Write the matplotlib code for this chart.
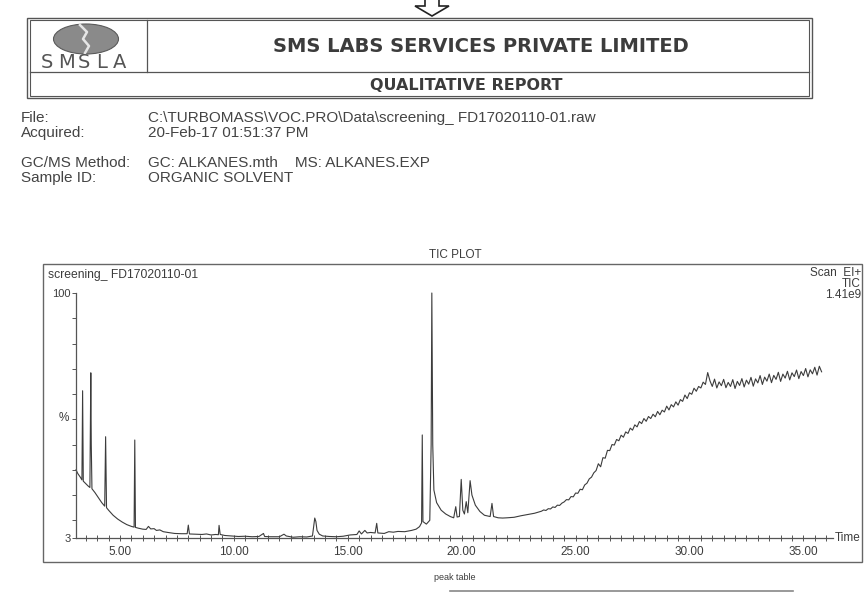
import matplotlib.pyplot as plt
from matplotlib.patches import Rectangle, Ellipse, Polygon
from matplotlib.lines import Line2D
import numpy as np

plt.rcParams['font.family'] = ['Liberation Sans', 'DejaVu Sans']

# report header text
company = 'SMS LABS SERVICES PRIVATE LIMITED'
report_title = 'QUALITATIVE REPORT'
info_labels = ['File:', 'Acquired:', 'GC/MS Method:', 'Sample ID:']
info_values = ['C:\\TURBOMASS\\VOC.PRO\\Data\\screening_ FD17020110-01.raw',
               '20-Feb-17 01:51:37 PM',
               'GC: ALKANES.mth    MS: ALKANES.EXP',
               'ORGANIC SOLVENT']

# chromatogram: retention time (min) and intensity (%)
rt_main = [3.07, 3.15, 3.25, 3.33, 3.36, 3.39, 3.5, 3.6, 3.68, 3.70, 3.72, 3.74, 3.77,
           3.9, 4.05, 4.2, 4.33, 4.37, 4.41, 4.5, 4.7, 4.9, 5.1, 5.3, 5.5, 5.62, 5.65,
           5.68, 5.8, 6.0, 6.15, 6.25, 6.35, 6.5, 6.6, 6.75, 6.9, 7.1, 7.4, 7.7, 7.95,
           8.0, 8.05, 8.3, 8.6, 8.8, 9.0, 9.2, 9.32, 9.35, 9.4, 9.6, 9.9, 10.2, 10.5,
           10.8, 11.1, 11.3, 11.35, 11.6, 12.0, 12.2, 12.3, 12.6, 12.9, 13.2, 13.45,
           13.55, 13.6, 13.65, 13.75, 13.9, 14.2, 14.5, 14.8, 15.1, 15.4, 15.5, 15.6,
           15.75, 15.85, 16.0, 16.2, 16.27, 16.32, 16.6, 16.8, 17.0, 17.2, 17.5, 17.8,
           18.0, 18.15, 18.24, 18.27, 18.30, 18.45, 18.6, 18.66, 18.69, 18.73, 18.78,
           18.9, 19.1, 19.3, 19.5, 19.65, 19.74, 19.8, 19.9, 19.98, 20.05, 20.12, 20.2,
           20.27, 20.37, 20.45, 20.6, 20.8, 21.0, 21.25, 21.33, 21.4, 21.6, 21.8, 22.0,
           22.3, 22.6, 22.9, 23.2]
int_main = [30.0, 28.5, 27.2, 26.0, 61.3, 25.5, 24.5, 23.6, 23.0, 44.0, 68.4, 40.0, 22.5,
            21.0, 19.0, 17.0, 15.6, 43.1, 15.0, 14.0, 12.0, 10.5, 9.3, 8.3, 7.6, 7.3, 41.8,
            7.2, 6.9, 6.5, 6.4, 7.6, 6.6, 6.7, 6.0, 6.2, 5.5, 5.2, 4.8, 4.7, 4.7,
            8.1, 4.6, 4.5, 4.4, 4.6, 4.2, 4.4, 4.3, 8.0, 4.4, 4.0, 3.8, 3.6, 3.7,
            3.5, 3.6, 4.8, 3.6, 3.5, 3.5, 4.5, 3.8, 3.3, 3.5, 3.4, 3.8,
            10.9, 9.5, 6.0, 4.5, 3.8, 3.6, 3.5, 3.7, 4.2, 4.4, 5.8, 4.6,
            6.0, 5.0, 5.2, 5.0, 8.8, 5.0, 4.8, 5.5, 5.3, 5.6, 5.5, 6.0,
            6.5, 7.5, 9.0, 43.8, 9.5, 8.5, 10.0, 40.0, 100.0, 40.0, 22.0,
            17.0, 14.0, 12.5, 11.5, 11.0, 15.4, 11.3, 11.5, 26.2, 14.0, 12.5, 17.4,
            13.0, 25.7, 20.0, 16.0, 13.5, 12.0, 11.5, 16.7, 11.5, 11.0, 10.9, 11.0,
            11.2, 11.8, 12.3, 12.8]

# column bleed region, scans every 0.1 min from 23.5 to 35.8
rt_tail = np.round(np.arange(23.5, 35.85, 0.1), 2)
int_tail = [13.6, 14.1, 13.9, 14.6, 14.5, 15.3, 15.1, 16.0, 15.9, 16.8,
            17.3, 18.2, 18.1, 19.4, 19.3, 20.8, 20.7, 22.3, 22.1, 24.0,
            24.7, 26.4, 27.1, 28.8, 29.7, 32.4, 31.2, 34.8, 34.6, 37.7,
            37.6, 40.0, 39.8, 42.0, 41.5, 43.7, 42.9, 45.0, 44.4, 46.5,
            45.7, 47.8, 47.0, 49.1, 48.3, 50.3, 49.2, 51.1, 50.3, 52.0,
            51.0, 53.1, 51.8, 53.6, 52.9, 55.2, 53.7, 55.8, 54.9, 56.9,
            55.6, 57.8, 57.1, 59.6, 58.2, 60.5, 59.9, 62.3, 61.1, 63.0,
            62.4, 64.7, 63.8, 68.5, 65.2, 63.0, 65.9, 62.4, 64.8, 63.3,
            65.8, 62.5, 64.6, 63.0, 65.7, 62.2, 65.0, 63.4, 66.1, 62.8,
            65.5, 63.9, 66.6, 63.1, 66.0, 64.4, 67.3, 63.8, 66.7, 65.1,
            67.9, 64.5, 67.4, 65.8, 68.6, 65.0, 67.9, 66.3, 69.0, 65.6,
            68.4, 66.9, 69.5, 66.1, 68.9, 67.3, 70.1, 66.8, 69.6, 68.0,
            70.6, 67.5, 71.0, 68.8]

rt = list(rt_main) + list(rt_tail)
intensity = int_main + int_tail

major_times = [5, 10, 15, 20, 25, 30, 35]

W, H = 864, 594
ink = '#3c3c3c'


def fx(x):
    return x / W


def fy(y):
    return 1 - y / H


fig = plt.figure(figsize=(8.64, 5.94), dpi=100)
fig.patch.set_facecolor('white')


def rect(x0, y0, x1, y1, lw=1.0, color='#555555'):
    fig.add_artist(Rectangle((fx(x0), fy(y1)), fx(x1) - fx(x0), fy(y0) - fy(y1),
                             transform=fig.transFigure, fill=False, lw=lw, ec=color))


def line(xs, ys, lw=1.0, color='#555555'):
    fig.add_artist(Line2D([fx(v) for v in xs], [fy(v) for v in ys],
                          transform=fig.transFigure, lw=lw, color=color))


def text(x, y, s, **kw):
    kw.setdefault('color', ink)
    fig.text(fx(x), fy(y), s, **kw)


# hollow arrow at the top
arrow = [(425, -2), (439, -2), (439, 6), (449, 6), (432, 16), (415, 6), (425, 6)]
fig.add_artist(Polygon([(fx(a), fy(b)) for a, b in arrow], closed=True,
                       transform=fig.transFigure, fc='white', ec='#222222', lw=1.2))

# header box
rect(27, 18, 812, 98, lw=1.0)
rect(30, 20, 809, 96, lw=0.8)
line([147, 147], [20, 72], lw=0.9)
line([30, 809], [72, 72], lw=0.9)

# logo
fig.add_artist(Ellipse((fx(86), fy(39)), 65 / W, 30 / H, transform=fig.transFigure,
                       fc='#8a8a8a', ec='#5a5a5a', lw=0.8))
line([80, 87, 83, 89, 85], [25, 32, 39, 46, 53], lw=1.8, color='#e6e6e6')
for ch, xc in zip('SMSLA', [47, 66, 84, 102, 120]):
    text(xc, 62, ch, ha='center', va='center', fontsize=14, color='#555555',
         family=['DejaVu Sans'])

text(481, 46, company, ha='center', va='center', fontsize=14, fontweight='bold',
     family=['DejaVu Sans'])
text(466, 85, report_title, ha='center', va='center', fontsize=11.5, fontweight='bold',
     family=['DejaVu Sans'])

# sample information
info_y = [118, 133, 163, 178]
for lab, val, yy in zip(info_labels, info_values, info_y):
    text(21, yy, lab, ha='left', va='center', fontsize=11, color='#444444')
    text(148, yy, val, ha='left', va='center', fontsize=11, color='#444444')

# plot frame and captions
text(455, 255, 'TIC PLOT', ha='center', va='center', fontsize=8.5)
rect(43, 264, 862, 562, lw=1.0, color='#666666')
text(48, 275, 'screening_ FD17020110-01', ha='left', va='center', fontsize=8.7)
text(861, 273, 'Scan  EI+', ha='right', va='center', fontsize=8.5)
text(861, 284, 'TIC', ha='right', va='center', fontsize=8.5)
text(861, 295, '1.41e9', ha='right', va='center', fontsize=8.5)
text(64, 418, '%', ha='center', va='center', fontsize=8.5)
text(835, 538, 'Time', ha='left', va='center', fontsize=8.5)

# chromatogram axes
ax = fig.add_axes([fx(76), fy(538), fx(833) - fx(76), fy(293) - fy(538)])
ax.plot(rt, intensity, color=ink, lw=0.8, clip_on=False)
ax.set_xlim(3.07, 36.3)
ax.set_ylim(3, 100)
ax.patch.set_alpha(0)
for s in ['top', 'right']:
    ax.spines[s].set_visible(False)
for s in ['left', 'bottom']:
    ax.spines[s].set_color('#555555')
    ax.spines[s].set_linewidth(0.9)

ax.set_xticks(major_times)
ax.set_xticklabels([f'{t:.2f}' for t in major_times])
ax.set_xticks(np.arange(3.5, 36.3, 0.5), minor=True)
ax.set_yticks([3, 100])
ax.set_yticklabels(['3', '100'])
ax.set_yticks(range(10, 100, 10), minor=True)
ax.tick_params(axis='x', which='both', direction='inout', length=4, width=0.7,
               colors='#555555', labelsize=8.5, labelcolor=ink, pad=4)
ax.tick_params(axis='y', which='both', direction='out', length=3, width=0.7,
               colors='#555555', labelsize=8, labelcolor=ink, pad=1)

# peak table caption and rule
text(455, 577, 'peak table', ha='center', va='center', fontsize=6.5)
line([450, 793], [591, 591], lw=1.2, color='#888888')

fig.savefig('out.png', dpi=100, facecolor='white')
